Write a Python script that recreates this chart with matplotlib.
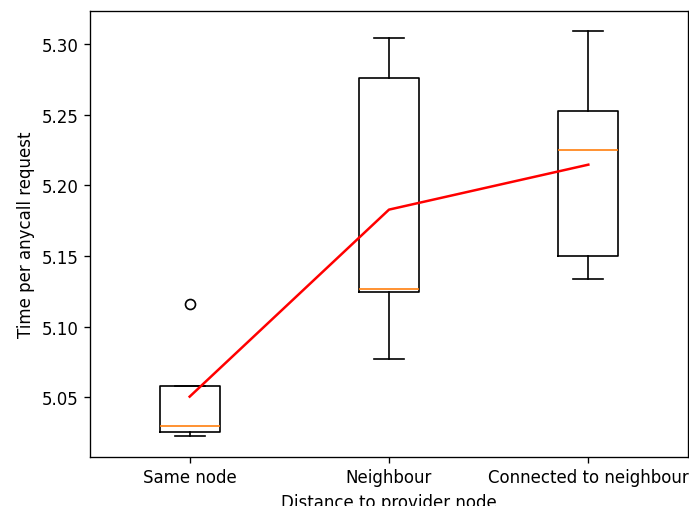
import matplotlib
matplotlib.use("Agg")
import matplotlib.pyplot as plt

# box statistics
labels = ["Same node", "Neighbour", "Connected to neighbour"]
whislo = [5.0229, 5.0771, 5.1337]
q1 = [5.0252, 5.1243, 5.1500]
med = [5.0297, 5.1266, 5.2250]
q3 = [5.0578, 5.2759, 5.2528]
whishi = [5.0578, 5.3042, 5.3094]
fliers = [[5.1158], [], []]
means = [5.0505, 5.1828, 5.2146]

stats = [dict(label=labels[i], whislo=whislo[i], q1=q1[i], med=med[i],
              q3=q3[i], whishi=whishi[i], fliers=fliers[i])
         for i in range(len(labels))]

DPI = 120
fig = plt.figure(figsize=(689 / DPI, 507 / DPI), dpi=DPI)
ax = fig.add_axes([90 / 689, 1 - 457.7 / 507, 598 / 689, 445.4 / 507])

pos = [1, 2, 3]
ax.bxp(stats, positions=pos, widths=0.3)
ax.plot(pos, means, color="red")

ax.set_xlim(0.5, 3.5)
ax.set_ylim(5.008, 5.3231)
ax.set_yticks([5.05, 5.10, 5.15, 5.20, 5.25, 5.30])
ax.set_xlabel("Distance to provider node")
ax.set_ylabel("Time per anycall request")

fig.savefig("out.png", dpi=DPI)
